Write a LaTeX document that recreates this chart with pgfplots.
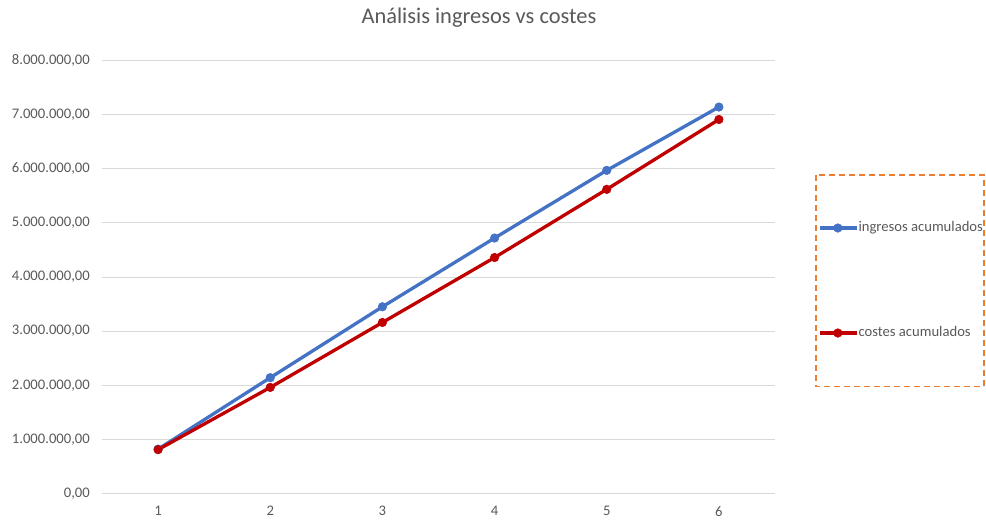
\documentclass[border=0pt]{standalone}
\usepackage{pgfplots}
\pgfplotsset{compat=1.18}
\usepackage{fontspec}
\setmainfont{Carlito}
\definecolor{ingblue}{HTML}{4472C4}
\definecolor{cosred}{HTML}{C00000}
\definecolor{txtgray}{HTML}{595959}
\definecolor{gridgray}{HTML}{D9D9D9}
\definecolor{legorange}{HTML}{ED7D31}
\begin{document}
\begin{tikzpicture}
\begin{axis}[
  scale only axis,
  width=673bp, height=433bp,
  xmin=0.5, xmax=6.5,
  ymin=0, ymax=8000000,
  xtick={1,2,3,4,5,6},
  ytick={0,1000000,2000000,3000000,4000000,5000000,6000000,7000000,8000000},
  scaled y ticks=false,
  yticklabel style={/pgf/number format/fixed, /pgf/number format/fixed zerofill, /pgf/number format/precision=2, /pgf/number format/use comma, /pgf/number format/1000 sep={.}, /pgf/number format/assume math mode=true, xshift=-12bp},
  xticklabel style={/pgf/number format/assume math mode=true, yshift=-12.5bp},
  ymajorgrids,
  grid style={gridgray, line width=1bp},
  axis line style={draw=none},
  major tick length=0pt,
  tick style={draw=none},
  ticklabel style={font=\fontsize{14.7}{17}\selectfont, text=txtgray, inner sep=0pt},
  clip=false,
  legend style={at={(1.0639,0.4919)}, anchor=west, draw=none, fill=none,
    font=\fontsize{14.7}{17}\selectfont, text=txtgray,
    row sep=92bp, inner sep=0pt,
    nodes={inner sep=0pt, text height=10bp, text depth=3bp}},
  legend cell align=left,
  legend image code/.code={\draw[mark repeat=2,mark phase=2,#1] plot coordinates {(0bp,0bp) (18bp,0bp) (37bp,0bp)};},
]
\addplot[ingblue, solid, line width=3.3bp, mark=*, mark size=4.3bp, mark options={solid, fill=ingblue, draw=ingblue, line width=0.5bp}]
  coordinates {(1,820000) (2,2140000) (3,3450000) (4,4720000) (5,5970000) (6,7140000)};
\addlegendentry{ingresos acumulados}
\addplot[cosred, solid, line width=3.3bp, mark=*, mark size=4.3bp, mark options={solid, fill=cosred, draw=cosred, line width=0.5bp}]
  coordinates {(1,810000) (2,1960000) (3,3160000) (4,4360000) (5,5620000) (6,6910000)};
\addlegendentry{costes acumulados}
\end{axis}
\draw[legorange, dashed, line width=1.3bp, dash pattern=on 6bp off 4bp] (714bp,318.5bp) rectangle (882bp,106.8bp);
\node[text=txtgray, font=\fontsize{22.5}{26}\selectfont] at (377bp,475.5bp) {Análisis ingresos vs costes};
\pgfresetboundingbox
\useasboundingbox (-102bp,-29.5bp) rectangle (884bp,493.5bp);
\end{tikzpicture}
\end{document}
